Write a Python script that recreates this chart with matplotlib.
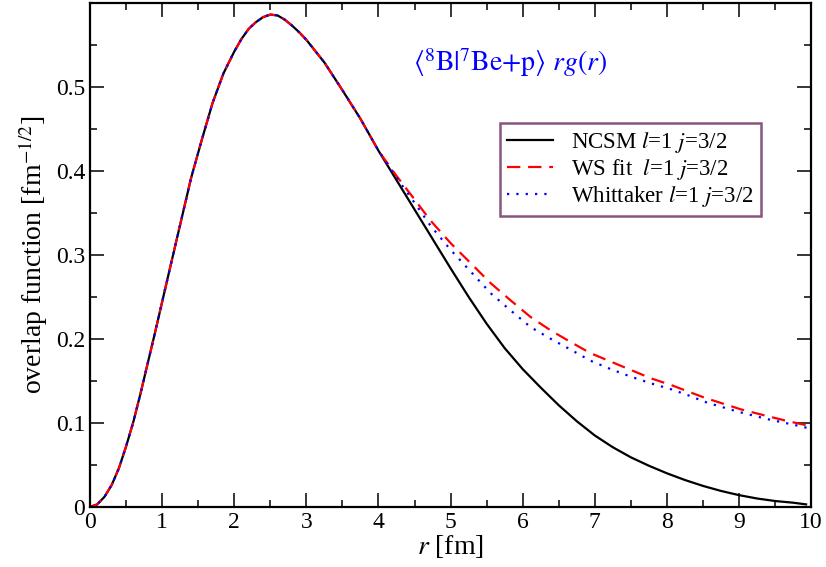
import numpy as np
import matplotlib
matplotlib.use('Agg')
import matplotlib.pyplot as plt

plt.rcParams['font.family'] = ['Liberation Serif', 'DejaVu Serif']
plt.rcParams['mathtext.fontset'] = 'stix'

# shared inner part (all three curves coincide up to ~4 fm)
r_core = [0.0, 0.1, 0.2, 0.3, 0.4, 0.5, 0.6, 0.7, 0.8, 0.9, 1.0, 1.1, 1.25, 1.4,
          1.55, 1.7, 1.85, 2.0, 2.1, 2.2, 2.3, 2.4, 2.5, 2.6, 2.7, 2.8, 2.9, 3.0,
          3.25, 3.5, 3.75, 4.0]
g_core = [0.0, 0.003, 0.012, 0.026, 0.046, 0.072, 0.101, 0.135, 0.171, 0.207, 0.244,
          0.281, 0.336, 0.391, 0.437, 0.481, 0.516, 0.542, 0.557, 0.569, 0.577,
          0.583, 0.586, 0.585, 0.580, 0.573, 0.565, 0.556, 0.529, 0.496, 0.462,
          0.424]

# NCSM tail
r_ncsm = [4.25, 4.5, 4.75, 5.0, 5.25, 5.5, 5.75, 6.0, 6.25, 6.5, 6.75, 7.0, 7.25,
          7.5, 7.75, 8.0, 8.25, 8.5, 8.75, 9.0, 9.25, 9.5, 9.75, 9.93]
g_ncsm = [0.389, 0.354, 0.319, 0.284, 0.250, 0.218, 0.189, 0.164, 0.142, 0.121,
          0.102, 0.085, 0.071, 0.059, 0.049, 0.040, 0.032, 0.025, 0.019, 0.014,
          0.010, 0.007, 0.005, 0.003]

# WS fit tail
r_ws = [4.25, 4.5, 4.72, 5.0, 5.28, 5.56, 5.83, 6.11, 6.39, 6.67, 6.94, 7.22, 7.5,
        7.78, 8.06, 8.52, 9.03, 9.35, 9.68, 10.0]
g_ws = [0.394, 0.366, 0.341, 0.314, 0.290, 0.266, 0.246, 0.226, 0.210, 0.196, 0.183,
        0.173, 0.163, 0.153, 0.145, 0.130, 0.116, 0.109, 0.102, 0.096]

# Whittaker tail
r_wh = [4.25, 4.5, 4.72, 5.0, 5.28, 5.56, 5.83, 6.11, 6.39, 6.67, 6.94, 7.22, 7.5,
        7.78, 8.06, 8.29, 8.56, 9.0, 9.42, 9.72, 10.0]
g_wh = [0.392, 0.362, 0.335, 0.306, 0.280, 0.254, 0.234, 0.214, 0.200, 0.187, 0.174,
        0.164, 0.155, 0.147, 0.140, 0.133, 0.124, 0.113, 0.104, 0.0985, 0.093]

fig = plt.figure(figsize=(8.26, 5.67), dpi=100)
ax = fig.add_axes([0.109, 0.106, 0.873, 0.889])

ax.plot(r_core + r_ncsm, g_core + g_ncsm, color='black', lw=1.6,
        label=r'NCSM $l$=1 $j$=3/2')
ax.plot(r_core + r_ws, g_core + g_ws, color='red', lw=1.6, dashes=(6, 3.5),
        label=r'WS fit  $l$=1 $j$=3/2')
ax.plot(r_core + r_wh, g_core + g_wh, color='blue', lw=1.6, dashes=(1, 3.2),
        label=r'Whittaker $l$=1 $j$=3/2')

ax.set_xlim(0, 10)
ax.set_ylim(0, 0.6)
ax.set_xticks(np.arange(0, 11, 1))
ax.set_xticks(np.arange(0.5, 10, 1), minor=True)
ax.set_yticks([0, 0.1, 0.2, 0.3, 0.4, 0.5])
ax.set_yticklabels(['0', '0.1', '0.2', '0.3', '0.4', '0.5'])
ax.set_yticks(np.arange(0.05, 0.6, 0.1), minor=True)
ax.tick_params(which='both', direction='in', top=True, right=True, labelsize=17)
ax.tick_params(which='major', length=10, width=1.1)
ax.tick_params(which='minor', length=5, width=1.1)
for s in ax.spines.values():
    s.set_linewidth(1.6)

ax.set_xlabel(r'$r$ [fm]', fontsize=20, labelpad=0)
ax.set_ylabel(r'overlap function [fm$^{-1/2}$]', fontsize=20, labelpad=4)

ax.text(4.48, 0.529, r'$\langle^8\mathrm{B}|^7\mathrm{Be}{+}\mathrm{p}\rangle$ $rg(r)$',
        color='blue', fontsize=20, va='center', ha='left')

leg = ax.legend(loc='upper left', bbox_to_anchor=(0.569, 0.762), fontsize=16.5,
                frameon=True, fancybox=False, handlelength=2.0, borderpad=0.3,
                labelspacing=0.1, handletextpad=0.8, borderaxespad=0)
leg.get_frame().set_edgecolor('#6b2a5f')
leg.get_frame().set_linewidth(1.8)

plt.savefig('out.png', dpi=100)
